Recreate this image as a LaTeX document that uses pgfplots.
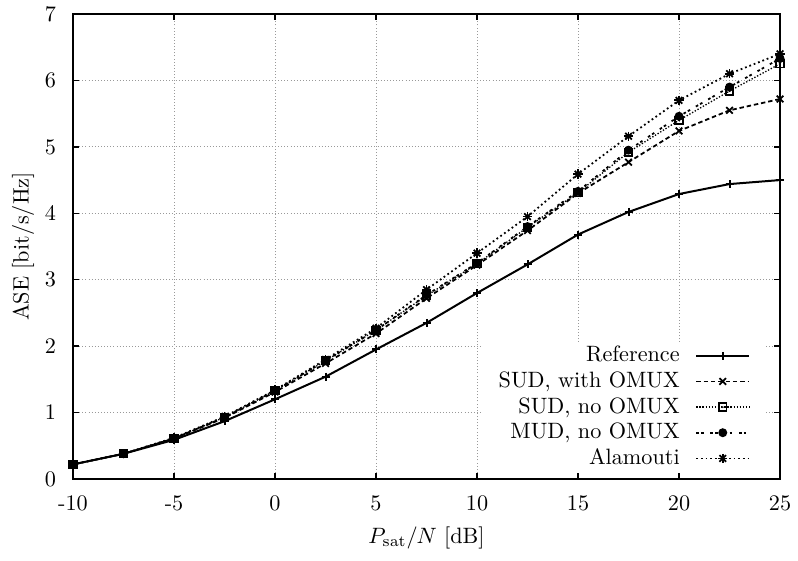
\documentclass[border=0pt]{standalone}
\usepackage{pgfplots}
\pgfplotsset{compat=1.18}
\pgfdeclareplotmark{sqdot}{%
 \pgfpathrectangle{\pgfqpoint{-\pgfplotmarksize}{-\pgfplotmarksize}}{\pgfqpoint{2\pgfplotmarksize}{2\pgfplotmarksize}}\pgfusepathqstroke
 \pgfpathcircle{\pgfpointorigin}{0.45pt}\pgfusepathqfill}
\pgfdeclareplotmark{gpstar}{\pgfuseplotmark{+}\pgfuseplotmark{x}}
\begin{document}
\begin{tikzpicture}
\begin{axis}[
  name=ax,
  width=318.5pt, height=209.5pt, scale only axis,
  xmin=-10, xmax=25, ymin=0, ymax=7,
  xtick={-10,-5,...,25}, xticklabels={{-10},{-5},0,5,10,15,20,25},
  ytick={0,1,...,7},
  tick align=inside, major tick length=2.5pt,
  grid=major, major grid style={densely dotted, gray!80, line width=0.4pt},
  axis line style={line width=0.8pt},
  tick style={line width=0.6pt, black},
  yticklabel style={xshift=-4.2pt},
  xticklabel style={yshift=-3.9pt},
  xlabel={$P_{\mathrm{sat}}/N$ [dB]},
  ylabel={ASE [bit/s/Hz]},
  every axis x label/.style={at={([yshift=-26.6pt]axis description cs:0.5,0)}, anchor=center},
  every axis y label/.style={at={([xshift=-22.5pt]axis description cs:0,0.5)}, anchor=center, rotate=90},
  legend plot pos=right,
  legend cell align=right,
  legend style={at={(axis description cs:0.9774,0.013)}, anchor=south east, fill=white, draw=none,
     inner xsep=6pt, inner ysep=0.5pt, column sep=5pt, nodes={inner ysep=1.5pt}},
  legend image code/.code={\draw[mark repeat=2,mark phase=2,#1] plot coordinates {(0cm,0cm) (0.42cm,0cm) (0.84cm,0cm)};},
]
\addplot[black, line width=0.9pt, mark=+, mark size=1.8pt, mark options={solid}] coordinates {
(-10,0.22) (-7.5,0.38) (-5,0.59) (-2.5,0.87) (0,1.20) (2.5,1.54) (5,1.95) (7.5,2.35) (10,2.80) (12.5,3.23) (15,3.68) (17.5,4.02) (20,4.29) (22.5,4.44) (25,4.50)};
\addlegendentry{Reference}
\addplot[black, line width=0.8pt, dash pattern=on 2pt off 1.3pt, mark=x, mark size=2.1pt, mark options={solid}] coordinates {
(-10,0.22) (-7.5,0.38) (-5,0.61) (-2.5,0.92) (0,1.31) (2.5,1.74) (5,2.19) (7.5,2.72) (10,3.22) (12.5,3.74) (15,4.30) (17.5,4.77) (20,5.24) (22.5,5.55) (25,5.72)};
\addlegendentry{SUD, with OMUX}
\addplot[black, line width=0.6pt, dash pattern=on 0.6pt off 0.8pt, mark=sqdot, mark size=1.7pt, mark options={solid, line width=0.8pt}] coordinates {
(-10,0.22) (-7.5,0.38) (-5,0.61) (-2.5,0.93) (0,1.33) (2.5,1.78) (5,2.24) (7.5,2.76) (10,3.24) (12.5,3.79) (15,4.31) (17.5,4.92) (20,5.40) (22.5,5.84) (25,6.25)};
\addlegendentry{SUD, no OMUX}
\addplot[black, line width=0.8pt, dash pattern=on 1.2pt off 1pt on 1.2pt off 3pt, mark=*, mark size=1.6pt, mark options={solid}] coordinates {
(-10,0.22) (-7.5,0.38) (-5,0.61) (-2.5,0.93) (0,1.33) (2.5,1.78) (5,2.24) (7.5,2.77) (10,3.25) (12.5,3.80) (15,4.33) (17.5,4.95) (20,5.46) (22.5,5.90) (25,6.33)};
\addlegendentry{MUD, no OMUX}
\addplot[black, line width=0.8pt, dash pattern=on 0.8pt off 1.3pt, mark=gpstar, mark size=2.1pt, mark options={solid}] coordinates {
(-10,0.22) (-7.5,0.38) (-5,0.62) (-2.5,0.94) (0,1.34) (2.5,1.80) (5,2.27) (7.5,2.85) (10,3.40) (12.5,3.95) (15,4.59) (17.5,5.16) (20,5.70) (22.5,6.10) (25,6.40)};
\addlegendentry{Alamouti}
\end{axis}
\pgfresetboundingbox
\path[use as bounding box] ([xshift=-32.9pt,yshift=-36.5pt]ax.south west) rectangle ([xshift=8.1pt,yshift=6.3pt]ax.north east);
\end{tikzpicture}
\end{document}
